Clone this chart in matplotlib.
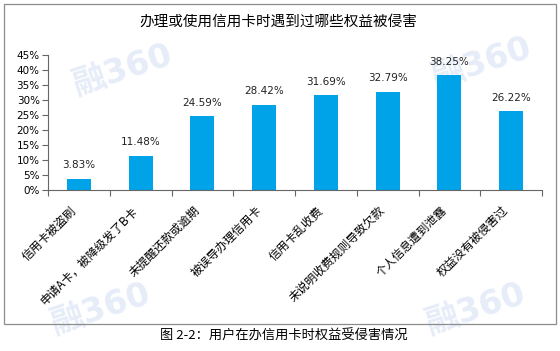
import numpy as np
import matplotlib
matplotlib.use("Agg")
import matplotlib.pyplot as plt
from matplotlib.patches import Rectangle

plt.rcParams['font.family'] = ['Noto Sans CJK SC', 'DejaVu Sans']

# donnees
categories = ["信用卡被盗刷", "申请A卡，被降级发了B卡", "未提醒还款或逾期", "被误导办理信用卡",
              "信用卡乱收费", "未说明收费规则导致欠款", "个人信息遭到泄露", "权益没有被侵害过"]
valeurs = [3.83, 11.48, 24.59, 28.42, 31.69, 32.79, 38.25, 26.22]
yticks = [0, 5, 10, 15, 20, 25, 30, 35, 40, 45]

titre = "办理或使用信用卡时遇到过哪些权益被侵害"
legende = "图 2-2：用户在办信用卡时权益受侵害情况"
bleu = "#00a2e8"

fig = plt.figure(figsize=(5.6, 3.51), dpi=100)

# cadre gris autour du graphique
fig.patches.append(Rectangle((4/560, 1-324/351), 552/560, 320/351, transform=fig.transFigure,
                             fill=False, edgecolor="#8c8c8c", linewidth=0.9))

# filigranes (tres pales)
for (x, y) in [(0.22, 0.80), (0.86, 0.82), (0.18, 0.12), (0.85, 0.12)]:
    fig.text(x, y, "融360", fontsize=24, color="#e6edf8", rotation=18, ha="center", va="center",
             fontweight="bold", zorder=-5, family=["DejaVu Sans", "Noto Sans CJK SC"])

ax = fig.add_axes([48/560, 1-190/351, 494/560, 135/351])
ax.patch.set_alpha(0)
x = np.arange(len(categories))
ax.bar(x, valeurs, width=0.39, color=bleu, zorder=2)

for xi, v in zip(x, valeurs):
    ax.annotate("%.2f%%" % v, (xi, v), xytext=(0, 6), textcoords="offset points",
                ha="center", va="bottom", fontsize=7.5, family="DejaVu Sans", color="#222222")

ax.set_xlim(-0.5, len(categories)-0.5)
ax.set_ylim(0, 45)
ax.set_yticks(yticks)
ax.set_yticklabels(["%d%%" % t for t in yticks], fontsize=7.5, family="DejaVu Sans")
ax.set_xticks(np.arange(len(categories)+1)-0.5)
ax.set_xticklabels([])
ax.set_xticks(x, minor=True)
ax.set_xticklabels(categories, minor=True, rotation=45, ha="right", fontsize=8.5)
ax.tick_params(axis="x", which="minor", length=0, pad=10)
ax.tick_params(axis="x", which="major", length=4, direction="out", color="#666666")
ax.tick_params(axis="y", length=4, direction="out", color="#666666", pad=2)
for s in ["top", "right"]:
    ax.spines[s].set_visible(False)
for s in ["left", "bottom"]:
    ax.spines[s].set_color("#666666")
    ax.spines[s].set_linewidth(0.8)

fig.text(0.497, 1-22/351, titre, ha="center", va="center", fontsize=10.5)
fig.text(0.507, 1-336/351, legende, ha="center", va="center", fontsize=9.5)

fig.savefig("out.png", dpi=100)
